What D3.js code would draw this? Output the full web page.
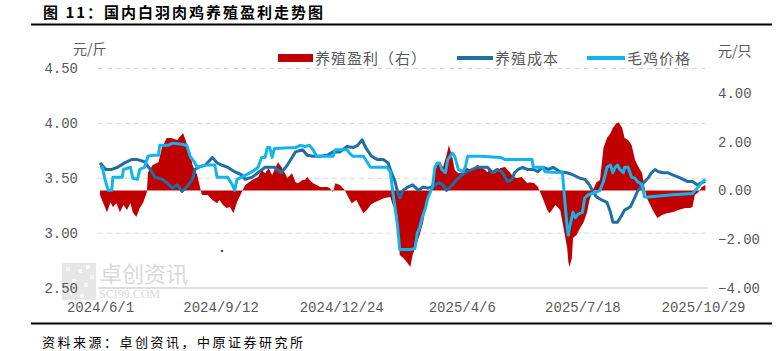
<!DOCTYPE html>
<html><head><meta charset="utf-8">
<script src="https://cdn.jsdelivr.net/npm/d3@7"></script>
<style>body{margin:0;background:#fff;} svg{display:block}</style>
</head><body><svg id="c" width="783" height="351"></svg>
<script>
const xTickLabels = ["2024/6/1","2024/9/12","2024/12/24","2025/4/6","2025/7/18","2025/10/29"];
const leftTicks = [2.5, 3.0, 3.5, 4.0, 4.5];
const rightTicks = [-4, -2, 0, 2, 4];
const seriesNames = ["养殖盈利（右）","养殖成本","毛鸡价格"];

const costDates = ["2024-06-01","2024-06-06","2024-06-11","2024-06-16","2024-06-22","2024-06-28","2024-07-03","2024-07-09","2024-07-14","2024-07-18","2024-07-24","2024-07-28","2024-08-02","2024-08-06","2024-08-10","2024-08-14","2024-08-19","2024-08-21","2024-08-24","2024-08-30","2024-09-05","2024-09-09","2024-09-13","2024-09-18","2024-09-24","2024-09-30","2024-10-03","2024-10-09","2024-10-14","2024-10-20","2024-10-28","2024-11-03","2024-11-08","2024-11-15","2024-11-21","2024-11-25","2024-11-30","2024-12-06","2024-12-12","2024-12-17","2024-12-23","2024-12-29","2025-01-03","2025-01-07","2025-01-11","2025-01-13","2025-01-15","2025-01-19","2025-01-24","2025-01-29","2025-02-02","2025-02-05","2025-02-08","2025-02-10","2025-02-12","2025-02-15","2025-02-19","2025-02-23","2025-02-28","2025-03-04","2025-03-08","2025-03-12","2025-03-17","2025-03-21","2025-03-24","2025-03-27","2025-03-29","2025-04-02","2025-04-06","2025-04-10","2025-04-15","2025-04-19","2025-04-23","2025-04-28","2025-05-02","2025-05-06","2025-05-10","2025-05-13","2025-05-15","2025-05-19","2025-05-21","2025-05-24","2025-05-28","2025-06-01","2025-06-06","2025-06-10","2025-06-14","2025-06-19","2025-06-23","2025-06-29","2025-07-05","2025-07-10","2025-07-16","2025-07-20","2025-07-24","2025-07-27","2025-07-30","2025-08-04","2025-08-08","2025-08-11","2025-08-13","2025-08-17","2025-08-21","2025-08-23","2025-08-28","2025-09-01","2025-09-03","2025-09-07","2025-09-09","2025-09-12","2025-09-15","2025-09-18","2025-09-21","2025-09-25","2025-09-29","2025-10-03","2025-10-08","2025-10-12","2025-10-16","2025-10-20","2025-10-24","2025-10-28","2025-10-31"];
const costValues = [3.64,3.58,3.58,3.60,3.64,3.67,3.67,3.65,3.58,3.51,3.49,3.46,3.41,3.44,3.38,3.42,3.49,3.58,3.60,3.62,3.69,3.64,3.62,3.60,3.56,3.53,3.49,3.51,3.55,3.60,3.60,3.55,3.62,3.74,3.76,3.71,3.70,3.70,3.71,3.74,3.74,3.79,3.78,3.80,3.85,3.80,3.76,3.70,3.67,3.67,3.64,3.55,3.47,3.38,3.32,3.39,3.42,3.44,3.39,3.42,3.41,3.42,3.46,3.44,3.39,3.42,3.44,3.49,3.53,3.56,3.58,3.60,3.60,3.60,3.55,3.58,3.56,3.51,3.47,3.49,3.55,3.58,3.60,3.58,3.58,3.56,3.60,3.58,3.60,3.56,3.55,3.53,3.50,3.49,3.44,3.38,3.33,3.30,3.28,3.19,3.10,3.10,3.17,3.21,3.24,3.33,3.38,3.44,3.47,3.50,3.55,3.58,3.56,3.55,3.55,3.53,3.51,3.49,3.47,3.47,3.44,3.46,3.47];

const priceDates = ["2024-06-01","2024-06-03","2024-06-05","2024-06-08","2024-06-11","2024-06-12","2024-06-20","2024-06-21","2024-06-27","2024-06-29","2024-07-03","2024-07-05","2024-07-09","2024-07-12","2024-07-16","2024-07-21","2024-07-22","2024-07-29","2024-08-02","2024-08-10","2024-08-14","2024-08-17","2024-08-21","2024-08-23","2024-08-30","2024-09-07","2024-09-09","2024-09-18","2024-09-22","2024-09-24","2024-09-26","2024-09-30","2024-10-09","2024-10-14","2024-10-17","2024-10-20","2024-10-22","2024-10-24","2024-10-26","2024-10-28","2024-11-15","2024-11-19","2024-11-23","2024-11-27","2024-11-30","2024-12-03","2024-12-17","2024-12-19","2024-12-29","2024-12-31","2025-01-03","2025-01-12","2025-01-15","2025-01-18","2025-02-01","2025-02-04","2025-02-06","2025-02-10","2025-02-12","2025-02-21","2025-02-25","2025-02-27","2025-03-01","2025-03-04","2025-03-06","2025-03-08","2025-03-12","2025-03-14","2025-03-16","2025-03-18","2025-03-20","2025-03-23","2025-03-25","2025-03-29","2025-03-31","2025-04-03","2025-04-07","2025-04-09","2025-04-11","2025-04-16","2025-04-22","2025-05-09","2025-05-13","2025-06-05","2025-06-06","2025-06-14","2025-06-16","2025-07-01","2025-07-03","2025-07-05","2025-07-06","2025-07-07","2025-07-10","2025-07-12","2025-07-14","2025-07-18","2025-07-20","2025-07-23","2025-07-29","2025-08-02","2025-08-05","2025-08-08","2025-08-11","2025-08-13","2025-08-15","2025-08-17","2025-08-19","2025-08-22","2025-08-23","2025-08-26","2025-08-29","2025-09-01","2025-09-03","2025-09-07","2025-09-09","2025-09-12","2025-10-03","2025-10-20","2025-10-24","2025-10-28","2025-10-31"];
const priceValues = [3.60,3.60,3.50,3.39,3.39,3.51,3.51,3.58,3.60,3.50,3.49,3.58,3.60,3.70,3.71,3.71,3.80,3.80,3.82,3.81,3.80,3.70,3.64,3.60,3.62,3.62,3.51,3.51,3.44,3.39,3.49,3.51,3.56,3.60,3.69,3.69,3.78,3.78,3.69,3.77,3.78,3.80,3.79,3.80,3.76,3.70,3.70,3.76,3.76,3.73,3.70,3.70,3.65,3.60,3.60,3.56,3.38,3.08,2.85,2.85,2.86,3.00,3.05,3.17,3.23,3.32,3.42,3.60,3.64,3.64,3.58,3.55,3.67,3.73,3.70,3.58,3.56,3.60,3.70,3.70,3.70,3.69,3.67,3.67,3.60,3.60,3.56,3.55,3.29,3.05,2.98,3.05,3.19,3.14,3.17,3.19,3.32,3.35,3.37,3.39,3.47,3.60,3.62,3.55,3.60,3.62,3.58,3.55,3.60,3.60,3.51,3.50,3.47,3.44,3.33,3.33,3.35,3.36,3.41,3.46,3.49];

const profitDates = ["2024-06-01","2024-06-02","2024-06-07","2024-06-10","2024-06-12","2024-06-15","2024-06-18","2024-06-21","2024-06-24","2024-06-27","2024-06-29","2024-07-02","2024-07-05","2024-07-08","2024-07-11","2024-07-12","2024-07-16","2024-07-21","2024-07-24","2024-07-28","2024-08-01","2024-08-06","2024-08-08","2024-08-11","2024-08-14","2024-08-17","2024-08-19","2024-08-23","2024-08-25","2024-08-27","2024-09-01","2024-09-05","2024-09-09","2024-09-11","2024-09-14","2024-09-17","2024-09-20","2024-09-23","2024-09-26","2024-09-30","2024-10-03","2024-10-09","2024-10-14","2024-10-17","2024-10-20","2024-10-23","2024-10-26","2024-10-28","2024-10-31","2024-11-03","2024-11-06","2024-11-08","2024-11-12","2024-11-15","2024-11-17","2024-11-21","2024-11-23","2024-11-25","2024-11-27","2024-11-30","2024-12-03","2024-12-06","2024-12-12","2024-12-14","2024-12-17","2024-12-19","2024-12-23","2024-12-27","2024-12-30","2025-01-02","2025-01-06","2025-01-09","2025-01-12","2025-01-15","2025-01-18","2025-01-20","2025-01-26","2025-01-30","2025-02-04","2025-02-06","2025-02-10","2025-02-12","2025-02-15","2025-02-18","2025-02-21","2025-02-23","2025-02-27","2025-03-01","2025-03-04","2025-03-07","2025-03-10","2025-03-12","2025-03-16","2025-03-18","2025-03-21","2025-03-24","2025-03-26","2025-03-29","2025-03-31","2025-04-03","2025-04-07","2025-04-10","2025-04-15","2025-04-19","2025-04-23","2025-04-28","2025-04-30","2025-05-04","2025-05-09","2025-05-13","2025-05-17","2025-05-20","2025-05-23","2025-05-27","2025-06-01","2025-06-03","2025-06-07","2025-06-10","2025-06-13","2025-06-18","2025-06-20","2025-06-25","2025-06-29","2025-07-01","2025-07-03","2025-07-05","2025-07-06","2025-07-07","2025-07-09","2025-07-10","2025-07-13","2025-07-16","2025-07-19","2025-07-22","2025-07-24","2025-07-27","2025-07-30","2025-08-02","2025-08-05","2025-08-08","2025-08-11","2025-08-13","2025-08-16","2025-08-18","2025-08-21","2025-08-23","2025-08-26","2025-08-29","2025-09-01","2025-09-03","2025-09-07","2025-09-09","2025-09-11","2025-09-14","2025-09-16","2025-09-20","2025-09-24","2025-09-28","2025-10-03","2025-10-08","2025-10-14","2025-10-18","2025-10-20","2025-10-22","2025-10-25","2025-10-28","2025-10-31"];
const profitValues = [-0.19,-0.31,-0.89,-0.48,-0.68,-0.52,-0.89,-0.60,-0.80,-0.52,-0.89,-1.09,-0.72,-0.48,-0.07,0.75,1.04,1.16,1.78,2.15,2.15,2.07,2.19,2.35,1.94,1.57,1.04,0.63,0.22,-0.19,-0.19,-0.39,-0.52,-0.39,-0.60,-0.72,-0.68,-0.93,-0.48,-0.07,0.22,0.43,0.55,0.84,0.71,0.92,0.63,0.84,1.16,0.96,0.71,0.51,0.71,0.34,0.30,0.43,0.43,0.55,0.43,0.30,0.22,0.14,0.14,0.10,-0.07,0.30,0.22,0.02,-0.27,-0.52,-0.39,-0.68,-0.93,-0.80,-0.60,-0.52,-0.39,-0.31,-0.27,-0.60,-1.01,-2.65,-2.77,-2.93,-3.14,-2.65,-2.11,-1.83,-1.30,-0.48,0.02,0.43,1.04,1.16,0.96,1.45,1.86,1.33,0.84,0.71,0.75,0.92,0.84,1.04,0.96,0.75,0.92,0.71,0.92,0.96,0.75,0.55,0.51,0.55,0.30,0.34,0.30,0.14,-0.19,-0.80,-0.93,-0.60,-0.80,-1.30,-1.83,-2.36,-2.93,-3.14,-2.77,-1.95,-1.83,-1.54,-1.30,-0.89,-0.39,0.02,0.34,0.43,1.74,2.15,2.35,2.56,2.76,2.80,2.56,2.15,2.07,1.86,1.25,1.04,0.71,0.14,-0.31,-0.60,-0.80,-1.13,-1.01,-0.93,-0.89,-0.80,-0.72,-0.72,-0.68,-0.19,-0.07,0.14,0.22];

const parse = d3.timeParse("%Y-%m-%d");
const parseTick = d3.timeParse("%Y/%m/%d");
const cost = costDates.map((d,i)=>({date:parse(d), v:costValues[i]}));
const price = priceDates.map((d,i)=>({date:parse(d), v:priceValues[i]}));
const profit = profitDates.map((d,i)=>({date:parse(d), v:profitValues[i]}));
const tickDates = xTickLabels.map(parseTick);

const svg = d3.select("#c");
const plotL = 98, plotR = 708, plotT = 68.5, plotB = 288;
const x = d3.scaleTime().domain([parseTick("2024/6/1"), parseTick("2025/10/29")]).range([100, 703]);
const yL = d3.scaleLinear().domain([2.5, 4.5]).range([plotB, plotT]);
const yR = d3.scaleLinear().domain([-4, 5]).range([plotB, plotT]);

const gray = "#595959";
const cjk = "'Noto Sans CJK SC','Noto Sans',sans-serif";
const mono = "'Liberation Mono','DejaVu Sans Mono',monospace";

// title
svg.append("text").attr("x",43).attr("y",18).attr("font-family",cjk).attr("font-weight",700)
  .attr("font-size",15).attr("letter-spacing","2px").attr("fill","#000").text("图 11：国内白羽肉鸡养殖盈利走势图");
svg.append("line").attr("x1",31).attr("x2",772).attr("y1",24.5).attr("y2",24.5).attr("stroke","#000").attr("stroke-width",2);
svg.append("line").attr("x1",31).attr("x2",772).attr("y1",323.5).attr("y2",323.5).attr("stroke","#000").attr("stroke-width",2);
svg.append("text").attr("x",42).attr("y",347).attr("font-family",cjk).attr("font-size",13)
  .attr("letter-spacing","2.5px").attr("fill","#000").text("资料来源：卓创资讯，中原证券研究所");

// watermark
const wm = svg.append("g");
wm.append("rect").attr("x",62).attr("y",263).attr("width",34).attr("height",37).attr("fill","#e6e6e6");
[[66,267],[78,269],[86,265],[72,279],[84,283],[90,275],[68,291],[80,294]].forEach(p=>{
  wm.append("rect").attr("x",p[0]).attr("y",p[1]).attr("width",4).attr("height",4).attr("fill","#f6f6f6");
});
wm.append("text").attr("x",100).attr("y",282).attr("font-family",cjk).attr("font-size",22).attr("fill","#d9d9d9").text("卓创资讯");
wm.append("text").attr("x",99).attr("y",298).attr("font-family","'Liberation Serif',serif").attr("font-size",12).attr("fill","#d9d9d9").text("SCI99.COM");

// gridlines
svg.append("g").selectAll("line").data(leftTicks.filter(t=>t>2.5)).join("line")
  .attr("x1",plotL).attr("x2",plotR).attr("y1",d=>yL(d)).attr("y2",d=>yL(d))
  .attr("stroke","#d9d9d9").attr("stroke-width",1).attr("stroke-dasharray","5,4");
svg.append("line").attr("x1",plotL).attr("x2",plotR).attr("y1",plotB).attr("y2",plotB)
  .attr("stroke","#bfbfbf").attr("stroke-width",1);

// profit area
const area = d3.area().x(d=>x(d.date)).y0(yR(0)).y1(d=>yR(d.v));
svg.append("path").datum(profit).attr("d",area).attr("fill","#C00000");

// lines
const lineL = d3.line().x(d=>x(d.date)).y(d=>yL(d.v));
svg.append("path").datum(cost).attr("d",lineL).attr("fill","none").attr("stroke","#1F6FA3").attr("stroke-width",3).attr("stroke-linejoin","round");
svg.append("path").datum(price).attr("d",lineL).attr("fill","none").attr("stroke","#12B4EE").attr("stroke-width",3).attr("stroke-linejoin","round");

// dot artifact
svg.append("circle").attr("cx",222).attr("cy",251).attr("r",1.3).attr("fill","#555");

// axes
const axL = svg.append("g").attr("transform","translate(80,0)")
  .call(d3.axisLeft(yL).tickValues(leftTicks).tickFormat(d3.format(".2f")).tickSize(0).tickPadding(2));
const axR = svg.append("g").attr("transform","translate(716,0)")
  .call(d3.axisRight(yR).tickValues(rightTicks).tickFormat(d3.format(".2f")).tickSize(0).tickPadding(2));
const axB = svg.append("g").attr("transform","translate(0,300)")
  .call(d3.axisBottom(x).tickValues(tickDates).tickFormat((d,i)=>xTickLabels[i]).tickSize(0).tickPadding(2));
[axL,axR,axB].forEach(a=>{
  a.select(".domain").remove();
  a.selectAll("text").attr("font-family",mono).attr("font-size",14).attr("fill",gray);
});

svg.append("text").attr("x",73).attr("y",54).attr("font-family",cjk).attr("font-size",14).attr("fill",gray).text("元/斤");
svg.append("text").attr("x",718).attr("y",56).attr("font-family",cjk).attr("font-size",14).attr("fill",gray).text("元/只");

// legend
const lg = svg.append("g");
lg.append("rect").attr("x",278).attr("y",54).attr("width",35).attr("height",8).attr("fill","#C00000");
lg.append("line").attr("x1",457).attr("x2",493).attr("y1",58).attr("y2",58).attr("stroke","#1F6FA3").attr("stroke-width",4);
lg.append("line").attr("x1",587).attr("x2",625).attr("y1",58).attr("y2",58).attr("stroke","#12B4EE").attr("stroke-width",4);
[[315,seriesNames[0]],[495,seriesNames[1]],[627,seriesNames[2]]].forEach(p=>{
  lg.append("text").attr("x",p[0]).attr("y",64).attr("font-family",cjk).attr("font-size",15)
    .attr("letter-spacing","1px").attr("fill",gray).text(p[1]);
});
</script></body></html>
